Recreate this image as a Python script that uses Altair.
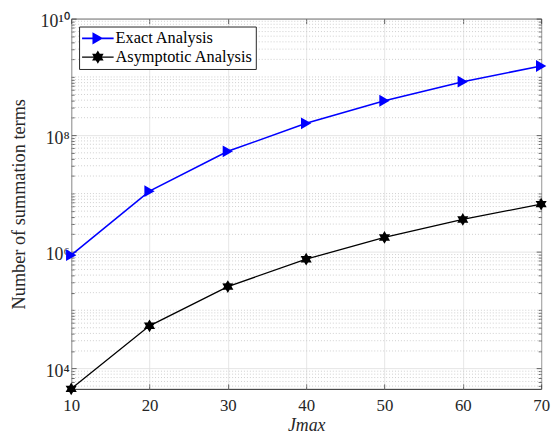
import math
import altair as alt
import pandas as pd

# ---- data ----
jmax = [10, 20, 30, 40, 50, 60, 70]
exact_terms = [8.8e5, 1.1e7, 5.3e7, 1.6e8, 3.9e8, 8.3e8, 1.54e9]
asymptotic_terms = [4480, 5.4e4, 2.54e5, 7.5e5, 1.77e6, 3.6e6, 6.6e6]
series_names = ["Exact Analysis", "Asymptotic Analysis"]
series_colors = ["#0000ff", "#000000"]
x_ticks = [10, 20, 30, 40, 50, 60, 70]
y_major_ticks = [1e4, 1e6, 1e8, 1e10]
y_major_labels = ["10\u2074", "10\u2076", "10\u2078", "10\u00b9\u2070"]
y_domain = [4480, 1e10]
x_domain = [10, 70]

FONT = "Liberation Serif"
TXT = "#262626"

# minor grid values (every k*10^d not already a labelled major tick)
y_minor = []
for d in range(3, 10):
    for k in range(1, 10):
        v = k * 10 ** d
        if y_domain[0] <= v <= y_domain[1] and v not in y_major_ticks:
            y_minor.append(v)

df = pd.DataFrame({
    "jmax": jmax * 2,
    "value": exact_terms + asymptotic_terms,
    "series": [series_names[0]] * len(jmax) + [series_names[1]] * len(jmax),
})
df_minor = pd.DataFrame({"value": y_minor})


def star_path(n, r_out, r_in, rot=-90.0):
    pts = []
    for i in range(2 * n):
        r = r_out if i % 2 == 0 else r_in
        a = math.radians(rot + i * 180.0 / n)
        pts.append((r * math.cos(a), r * math.sin(a)))
    return "M" + "L".join(f"{x:.3f},{y:.3f}" for x, y in pts) + "Z"


tri_path = "M0.87,0L-0.87,1L-0.87,-1Z"
hex_path = star_path(6, 1.0, 0.58)


def seg(t):
    return f"M-1,{-t}L1,{-t}L1,{t}L-1,{t}Z"


leg_tri = seg(0.05) + "M0.34,0L-0.34,0.38L-0.34,-0.38Z"
leg_hex = seg(0.042) + star_path(6, 0.42, 0.245)

label_map = " : ".join(
    f"datum.value == {v} ? '{s}'" for v, s in zip(y_major_ticks, y_major_labels)
) + " : ''"

xscale = alt.Scale(domain=x_domain, nice=False, zero=False)
yscale = alt.Scale(type="log", domain=y_domain, nice=False)

# main labelled axes (with grid)
x_main = alt.Axis(orient="bottom", values=x_ticks, title="Jmax", grid=True, gridColor="#dfdfdf",
                  gridWidth=0.8, ticks=False, domain=False, labelFont=FONT,
                  labelFontSize=17, labelColor=TXT, labelPadding=9, labelFlush=False,
                  titleFont=FONT, titleFontSize=18, titleFontStyle="italic",
                  titleFontWeight="normal", titleColor=TXT, titlePadding=3)
y_main = alt.Axis(orient="left", values=y_major_ticks, labelExpr=label_map,
                  title="Number of summation terms",
                  grid=True, gridColor="#dfdfdf", gridWidth=0.8, ticks=False, domain=False,
                  labelFont=FONT, labelFontSize=18, labelColor=TXT, labelPadding=2,
                  labelOffset=3, labelFlush=False, titleFont=FONT, titleFontSize=18.5,
                  titleFontWeight="normal", titleColor=TXT, titlePadding=12)


def inward(orient, values, length):
    # tick-only axis pulled inside the plot so that its ticks point inward
    return alt.Axis(orient=orient, values=values, offset=-length, tickSize=length,
                    tickColor=TXT, tickWidth=0.7, labels=False, grid=False, domain=False,
                    title=None)


def X(axis):
    return alt.X("jmax:Q", scale=xscale, axis=axis)


def Y(axis):
    return alt.Y("value:Q", scale=yscale, axis=axis)


minor = alt.Chart(df_minor).mark_rule(color="#c4c4c4", strokeDash=[1, 2], strokeWidth=0.8).encode(
    y=Y(inward("left", y_minor, 3))
)

sub_exact = alt.Chart(df).transform_filter(alt.datum.series == series_names[0])
sub_asym = alt.Chart(df).transform_filter(alt.datum.series == series_names[1])

line_exact = sub_exact.mark_line(color=series_colors[0], strokeWidth=1.6).encode(
    x=X(x_main), y=Y(y_main))
pts_exact = sub_exact.mark_point(shape=tri_path, filled=True, opacity=1, size=144,
                                 color=series_colors[0], strokeWidth=0).encode(
    x=X(inward("top", x_ticks, 5)), y=Y(inward("right", y_minor, 3)))
line_asym = sub_asym.mark_line(color=series_colors[1], strokeWidth=1.3).encode(
    x=X(inward("bottom", x_ticks, 5)), y=Y(inward("left", y_major_ticks, 5)))
pts_asym = sub_asym.mark_point(shape=hex_path, filled=True, opacity=1, size=169,
                               color=series_colors[1], strokeWidth=0).encode(
    x=X(None), y=Y(inward("right", y_major_ticks, 5)))

leg = alt.Legend(
    title=None, orient="top-left", offset=8, padding=3, strokeColor=TXT,
    fillColor="white", symbolSize=1024, clipHeight=18, rowPadding=1,
    labelOffset=2, labelFont=FONT, labelFontSize=16.5, labelColor="black",
    symbolStrokeWidth=0, labelLimit=0, cornerRadius=0)

legend_layer = alt.Chart(df).transform_filter("false").mark_point(
    filled=True, opacity=1, size=1024, strokeWidth=0
).encode(
    x=X(None), y=Y(None),
    color=alt.Color("series:N", scale=alt.Scale(domain=series_names, range=series_colors),
                    legend=leg),
    shape=alt.Shape("series:N", scale=alt.Scale(domain=series_names, range=[leg_tri, leg_hex]),
                    legend=leg),
)

chart = alt.layer(minor, line_exact, pts_exact, line_asym, pts_asym, legend_layer).resolve_axis(
    x="independent", y="independent"
).properties(
    width=476, height=375,
    background="white",
    autosize=alt.AutoSizeParams(type="none"),
    padding={"left": 64, "top": 8, "right": 10, "bottom": 46},
).configure_view(stroke=TXT, strokeWidth=1)

chart.save("out.html", embed_options={"renderer": "svg", "actions": False})
